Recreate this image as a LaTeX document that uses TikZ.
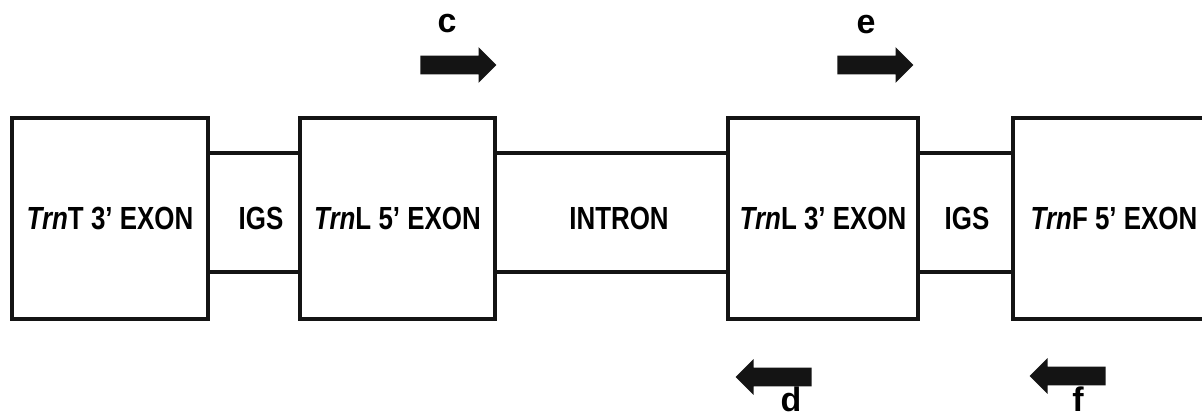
\documentclass[tikz,border=0pt]{standalone}
\usepackage{fontspec}
\setmainfont{Liberation Sans}[FakeStretch=0.81]
\newfontfamily\lblfont{Liberation Sans}
\usepackage{tikz}
\usetikzlibrary{shapes.arrows, positioning, calc}
\definecolor{inkdark}{RGB}{20,20,20}
\tikzset{
  exon/.style={rectangle, draw=inkdark, fill=white, line width=2.4pt,
    minimum height=100.5pt, inner sep=0pt,
    font=\fontsize{16}{18}\selectfont\bfseries},
  gap/.style={font=\fontsize{16}{18}\selectfont\bfseries, inner sep=0pt},
  rim/.style={line width=2.4pt, color=inkdark},
  primer/.style={single arrow, fill=inkdark, draw=none, inner sep=4.5pt,
    single arrow head extend=4.25pt, minimum height=38pt, anchor=tail},
  tag/.style={font=\lblfont\fontsize{17}{20}\selectfont\bfseries, anchor=base, inner sep=0pt}
}
\begin{document}
\begin{tikzpicture}[x=0.5pt, y=-0.5pt]
    \clip (0,0) rectangle (1202,416);
    % Exons
    \node[exon, minimum width=98pt] (trnT) at (110,218.5) {\textit{Trn}T 3' EXON};
    \node[exon, minimum width=97.5pt] (trnL5) at (397.5,218.5) {\textit{Trn}L 5' EXON};
    \node[exon, minimum width=95pt] (trnL3) at (823,218.5) {\textit{Trn}L 3' EXON};
    \node[exon, minimum width=101pt] (trnF) at (1114,218.5) {\textit{Trn}F 5' EXON};
    
    % Spacers between the exons
    \foreach \a/\b in {trnT/trnL5, trnL5/trnL3, trnL3/trnF} {
      \draw[rim] ([yshift=32.75pt]\a.east) -- ([yshift=32.75pt]\b.west);
      \draw[rim] ([yshift=-26.75pt]\a.east) -- ([yshift=-26.75pt]\b.west);
    }
    \node[gap] (igs1) at (261,218.5) {IGS};
    \node[gap] (intron) at (619,218.5) {INTRON};
    \node[gap] (igs2) at (967,218.5) {IGS};
    
    % Primers
    \node[primer] (pc) at (420,65) {};
    \node[primer] (pe) at (837,65) {};
    \node[primer, shape border rotate=180] (pd) at (812,377) {};
    \node[primer, shape border rotate=180] (pf) at (1106,376) {};
    \node[tag] (lc) at (447,33) {c};
    \node[tag] (le) at (866,34) {e};
    \node[tag] (ld) at (791,411) {d};
    \node[tag] (lf) at (1078,411) {f};
  \end{tikzpicture}
\end{document}
